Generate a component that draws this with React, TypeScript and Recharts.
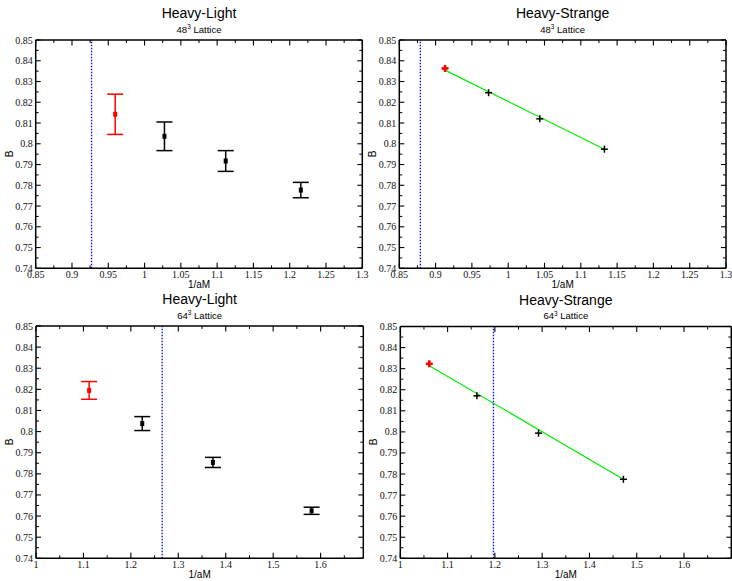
import React from 'react';
import { ScatterChart, Scatter, XAxis, YAxis, ErrorBar, ReferenceLine } from 'recharts';

// axis ticks
const bTicks = [0.74, 0.75, 0.76, 0.77, 0.78, 0.79, 0.8, 0.81, 0.82, 0.83, 0.84, 0.85];
const bMinor = [0.745, 0.755, 0.765, 0.775, 0.785, 0.795, 0.805, 0.815, 0.825, 0.835, 0.845];
const x48Ticks = [0.85, 0.9, 0.95, 1, 1.05, 1.1, 1.15, 1.2, 1.25, 1.3];
const x48Minor = [0.875, 0.925, 0.975, 1.025, 1.075, 1.125, 1.175, 1.225, 1.275];
const x64Ticks = [1, 1.1, 1.2, 1.3, 1.4, 1.5, 1.6];
const x64Minor = [1.05, 1.15, 1.25, 1.35, 1.45, 1.55, 1.65];

// heavy-light, 48^3
const hl48RedX = [0.9595];
const hl48RedB = [0.8142];
const hl48RedErr = [0.0097];
const hl48X = [1.0274, 1.1118, 1.2153];
const hl48B = [0.8036, 0.7917, 0.7777];
const hl48Err = [0.0069, 0.005, 0.0037];
const hl48Cut = 0.927;

// heavy-strange, 48^3
const hs48RedX = [0.913];
const hs48RedB = [0.8363];
const hs48X = [0.973, 1.0435, 1.1325];
const hs48B = [0.8246, 0.812, 0.7974];
const hs48FitX = [0.913, 1.1325];
const hs48FitB = [0.8355, 0.7974];
const hs48Cut = 0.879;

// heavy-light, 64^3
const hl64RedX = [1.112];
const hl64RedB = [0.8195];
const hl64RedErr = [0.0042];
const hl64X = [1.224, 1.373, 1.581];
const hl64B = [0.8038, 0.7854, 0.7625];
const hl64Err = [0.0033, 0.0024, 0.0017];
const hl64Cut = 1.266;

// heavy-strange, 64^3
const hs64RedX = [1.0613];
const hs64RedB = [0.8323];
const hs64X = [1.162, 1.2923, 1.4718];
const hs64B = [0.8171, 0.7994, 0.7775];
const hs64FitX = [1.0613, 1.4718];
const hs64FitB = [0.8314, 0.7775];
const hs64Cut = 1.197;

const B_MIN = 0.74;
const B_MAX = 0.85;

const rows = (xs: number[], bs: number[], errs?: number[]) =>
  xs.map((x, i) => ({ x, b: bs[i], err: errs ? errs[i] : 0 }));

const W = 390;
const H = 300;
const YW = 30;
const XH = 20;
const THIN = 0.01; // mirrored frame axes take (almost) no room
const SANS = '"Liberation Sans", Arial, sans-serif';
const SERIF = '"Liberation Serif", "Times New Roman", serif';

const square = (color: string) => (props: any) =>
  <rect x={props.cx - 2} y={props.cy - 2.5} width={4} height={5} fill={color} />;

const plus = (color: string, r: number, sw: number) => (props: any) => (
  <g stroke={color} strokeWidth={sw}>
    <line x1={props.cx - r} y1={props.cy} x2={props.cx + r} y2={props.cy} />
    <line x1={props.cx} y1={props.cy - r} x2={props.cx} y2={props.cy + r} />
  </g>
);

// inward tick mark: direction and length fixed per series
const tick = (ex: number, ey: number, sw: number) => (props: any) => (
  <line x1={props.cx} y1={props.cy} x2={props.cx + ex} y2={props.cy + ey}
    stroke="#000" strokeWidth={sw} />
);

const noDot = () => <g />;

type PanelCfg = {
  title: string;
  lattice: string;
  box: [number, number];
  plot: { l: number; t: number; r: number; b: number };
  xDomain: [number, number];
  xTicks: number[];
  xMinor: number[];
  cut: number;
  red: any[];
  black: any[];
  fit?: any[];
};

const panels: PanelCfg[] = [
  {
    title: 'Heavy-Light', lattice: '48', box: [0, 0],
    plot: { l: 35.7, t: 40, r: 362.3, b: 268.3 },
    xDomain: [0.85, 1.3], xTicks: x48Ticks, xMinor: x48Minor, cut: hl48Cut,
    red: rows(hl48RedX, hl48RedB, hl48RedErr), black: rows(hl48X, hl48B, hl48Err),
  },
  {
    title: 'Heavy-Strange', lattice: '48', box: [366, 0],
    plot: { l: 399.3, t: 40, r: 726, b: 268.3 },
    xDomain: [0.85, 1.3], xTicks: x48Ticks, xMinor: x48Minor, cut: hs48Cut,
    red: rows(hs48RedX, hs48RedB), black: rows(hs48X, hs48B), fit: rows(hs48FitX, hs48FitB),
  },
  {
    title: 'Heavy-Light', lattice: '64', box: [0, 290],
    plot: { l: 36, t: 326, r: 363.3, b: 558.3 },
    xDomain: [1, 1.69], xTicks: x64Ticks, xMinor: x64Minor, cut: hl64Cut,
    red: rows(hl64RedX, hl64RedB, hl64RedErr), black: rows(hl64X, hl64B, hl64Err),
  },
  {
    title: 'Heavy-Strange', lattice: '64', box: [366, 290],
    plot: { l: 400.3, t: 326.5, r: 731.3, b: 558.3 },
    xDomain: [1, 1.7], xTicks: x64Ticks, xMinor: x64Minor, cut: hs64Cut,
    red: rows(hs64RedX, hs64RedB), black: rows(hs64X, hs64B), fit: rows(hs64FitX, hs64FitB),
  },
];

const frame = { stroke: '#000', strokeWidth: 1.5 };

function Panel({ p }: { p: PanelCfg }) {
  const [bx, by] = p.box;
  const margin = {
    left: p.plot.l - bx - YW,
    top: p.plot.t - by,
    right: bx + W - p.plot.r,
    bottom: by + H - p.plot.b - XH,
  };
  const cx = (p.plot.l + p.plot.r) / 2;
  const cy = (p.plot.t + p.plot.b) / 2;
  const hasErr = !p.fit;
  const [x0, x1] = p.xDomain;

  // tick positions along each edge
  const onBottom = (vs: number[]) => vs.map((v) => ({ x: v, b: B_MIN }));
  const onTop = (vs: number[]) => vs.map((v) => ({ x: v, b: B_MAX }));
  const onLeft = (vs: number[]) => vs.map((v) => ({ x: x0, b: v }));
  const onRight = (vs: number[]) => vs.map((v) => ({ x: x1, b: v }));

  const tickSeries = [
    { data: onBottom(p.xTicks), shape: tick(0, -5.5, 1.1) },
    { data: onBottom(p.xMinor), shape: tick(0, -3, 1) },
    { data: onTop(p.xTicks), shape: tick(0, 5.5, 1.1) },
    { data: onTop(p.xMinor), shape: tick(0, 3, 1) },
    { data: onLeft(bTicks), shape: tick(5, 0, 1.1) },
    { data: onLeft(bMinor), shape: tick(3, 0, 1) },
    { data: onRight(bTicks), shape: tick(-5, 0, 1.1) },
    { data: onRight(bMinor), shape: tick(-3, 0, 1) },
  ];

  return (
    <>
      <div style={{ position: 'absolute', left: bx, top: by }}>
        <ScatterChart width={W} height={H} margin={margin}>
          {/* top and right frame lines */}
          <XAxis xAxisId="top" type="number" dataKey="x" orientation="top" mirror height={THIN}
            domain={p.xDomain} allowDataOverflow ticks={p.xTicks} tick={false} tickLine={false}
            axisLine={frame} />
          <YAxis yAxisId="right" type="number" dataKey="b" orientation="right" mirror width={THIN}
            domain={[B_MIN, B_MAX]} allowDataOverflow ticks={bTicks} tick={false} tickLine={false}
            axisLine={frame} />

          {/* labelled axes */}
          <XAxis type="number" dataKey="x" domain={p.xDomain} ticks={p.xTicks}
            interval={0} height={XH} tickLine={false} tickSize={0} tickMargin={3} axisLine={frame}
            tickFormatter={(v: number) => String(v)}
            tick={{ fontSize: 10, fontFamily: SERIF, fill: '#111' }} />
          <YAxis type="number" dataKey="b" domain={[B_MIN, B_MAX]} ticks={bTicks}
            interval={0} width={YW} tickLine={false} tickSize={0} tickMargin={3} axisLine={frame}
            tickFormatter={(v: number) => String(v)}
            tick={{ fontSize: 10, fontFamily: SERIF, fill: '#111' }} />

          {/* inward tick marks on all four edges */}
          {tickSeries.map((t, i) => (
            <Scatter key={'tick' + i} data={t.data} shape={t.shape}
              isAnimationActive={false} legendType="none" />
          ))}

          <ReferenceLine x={p.cut} ifOverflow="visible" stroke="#0000ff" strokeWidth={1.3} strokeDasharray="1.5 1.5" />

          {p.fit && (
            <Scatter data={p.fit} line={{ stroke: '#00ee00', strokeWidth: 1.2 }} shape={noDot}
              isAnimationActive={false} legendType="none" />
          )}

          <Scatter data={p.black} shape={hasErr ? square('#000') : plus('#000', 3.5, 1.5)}
            isAnimationActive={false}>
            {hasErr && <ErrorBar dataKey="err" direction="y" width={8} stroke="#000" strokeWidth={1.5} />}
          </Scatter>
          <Scatter data={p.red} shape={hasErr ? square('#ff0000') : plus('#ff0000', 3.5, 2.6)}
            isAnimationActive={false}>
            {hasErr && <ErrorBar dataKey="err" direction="y" width={8} stroke="#ff0000" strokeWidth={1.5} />}
          </Scatter>
        </ScatterChart>
      </div>

      <div style={{
        position: 'absolute', left: cx - 100, width: 200, top: p.plot.t - 26.8 - 8,
        textAlign: 'center', fontFamily: SANS, fontSize: 14, lineHeight: '16px', color: '#000',
      }}>{p.title}</div>
      <div style={{
        position: 'absolute', left: cx - 100, width: 200, top: p.plot.t - 10.5 - 6,
        textAlign: 'center', fontFamily: SANS, fontSize: 9.5, lineHeight: '12px', color: '#000',
      }}>
        {p.lattice}
        <span style={{ fontSize: 6.5, position: 'relative', top: -3.5 }}>3</span> Lattice
      </div>
      <div style={{
        position: 'absolute', left: cx - 50, width: 100, top: p.plot.b + 17 - 6,
        textAlign: 'center', fontFamily: SANS, fontSize: 10, lineHeight: '12px', color: '#000',
      }}>1/aM</div>
      <div style={{
        position: 'absolute', left: p.plot.l - 26 - 10, width: 20, top: cy - 6,
        textAlign: 'center', fontFamily: SANS, fontSize: 10, lineHeight: '12px', color: '#000',
        transform: 'rotate(-90deg)',
      }}>B</div>
    </>
  );
}

export default function App() {
  return (
    <div style={{
      position: 'absolute', left: 0, top: 0, width: 732, height: 581,
      overflow: 'hidden', background: '#fff',
    }}>
      {panels.map((p, i) => <Panel key={i} p={p} />)}
    </div>
  );
}
